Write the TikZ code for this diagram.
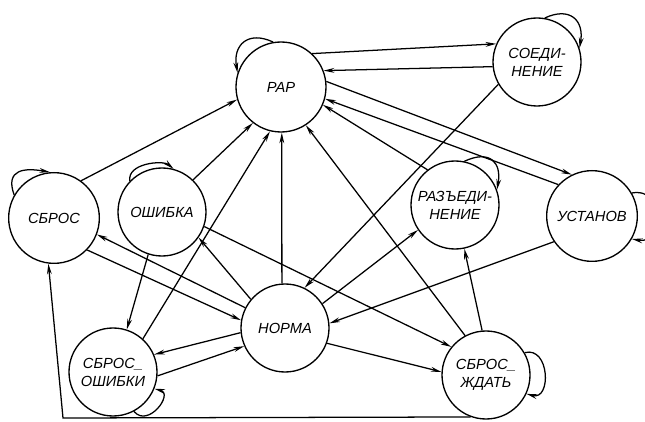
\documentclass[tikz,border=0pt]{standalone}
\usepackage{fontspec}
\setmainfont{Liberation Sans}
\usetikzlibrary{arrows.meta}
\begin{document}
\begin{tikzpicture}[x=0.75pt,y=0.75pt,
  state/.style={circle,draw,line width=1pt,minimum size=66pt,inner sep=0pt,align=center,
    font=\fontsize{11}{13.5}\selectfont\itshape},
  tr/.style={-{Stealth[length=8pt,width=3.6pt]},line width=0.95pt}]
\useasboundingbox (0,0) rectangle (645,421);
\clip (0,0) rectangle (645,421);
% states
\node[state,minimum size=67.5pt] (rap) at (281,334) {РАР};
\node[state] (soed)  at (537,359) {СОЕДИ-\\НЕНИЕ};
\node[state,minimum size=68pt] (sbros) at (54,203) {СБРОС};
\node[state] (osh)   at (162,209) {ОШИБКА};
\node[state] (razed) at (455,216) {РАЗЪЕДИ-\\НЕНИЕ};
\node[state,minimum size=68pt] (ust) at (592,205) {УСТАНОВ};
\node[state] (norma) at (285,93)  {НОРМА};
\node[state] (sosh)  at (113,49)  {СБРОС\_\\ОШИБКИ};
\node[state] (szhd)  at (486,46)  {СБРОС\_\\ЖДАТЬ};
\coordinate (corner) at (63,3);
% transitions
\draw[tr] (rap.47) -- (soed.156);
\draw[tr] (soed.186) -- (rap.21);
\draw[tr] (rap.7) -- (ust.116);
\draw[tr] (ust.137) -- (rap.-15);
\draw[tr] (razed.128) -- (rap.-23);
\draw[tr] (szhd.118) -- (rap.-57);
\draw[tr] (osh.46) -- (rap.232);
\draw[tr] (sbros.54) -- (rap.196);
\draw[tr] (sosh.48) -- (rap.256);
\draw[tr] (norma.94) -- (rap.-89);
\draw[tr] (soed.210) -- (norma.64);
\draw[tr] (norma.33) -- (razed.214);
\draw[tr] (ust.214) -- (norma.6);
\draw[tr] (norma.-20) -- (szhd.176);
\draw[tr] (osh.-19) -- (szhd.141);
\draw[tr] (szhd.95) -- (razed.-78);
\draw[tr] (norma.153) -- (sbros.-21);
\draw[tr] (sbros.-44) -- (norma.170);
\draw[tr] (norma.140) -- (osh.-35);
\draw[tr] (osh.252) -- (sosh.72);
\draw[tr] (norma.186) -- (sosh.23);
\draw[tr] (sosh.-5) -- (norma.204);
\draw[tr] (szhd.250) -- (corner) -- (sbros.263);
% self loops
\draw[tr] (rap.100) .. controls +(155:28) and +(100:28) .. (rap.162);
\draw[tr] (soed.80) .. controls +(25:28) and +(80:28) .. (soed.18);
\draw[tr] (sbros.150) .. controls +(110:28) and +(170:25) .. (sbros.95);
\draw[tr] (osh.136) .. controls +(100:18) and +(140:14) .. (osh.75);
\draw[tr] (razed.78) .. controls +(25:28) and +(80:28) .. (razed.20);
\draw[tr] (ust.30) .. controls +(10:35) and +(-10:35) .. (ust.-30);
\draw[tr] (sosh.-62) .. controls +(-50:22) and +(-15:20) .. (sosh.-22);
\draw[tr] (szhd.30) .. controls +(15:26) and +(-15:26) .. (szhd.-25);
\end{tikzpicture}
\end{document}
